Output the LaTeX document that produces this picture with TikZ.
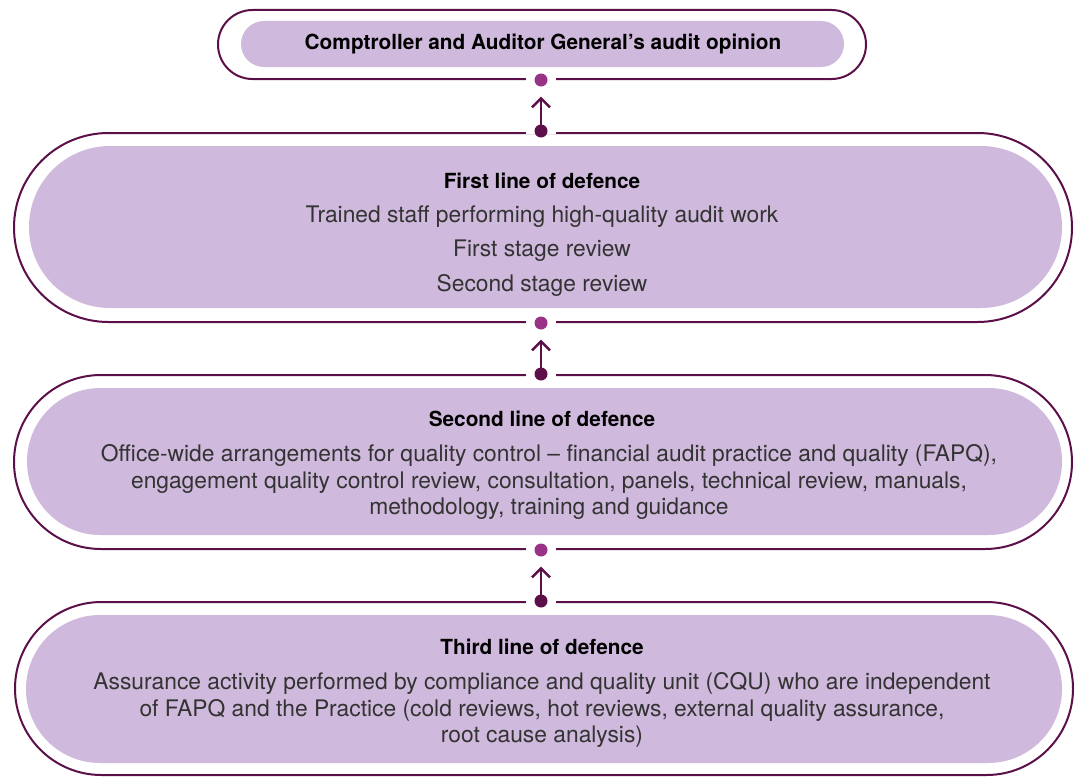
\documentclass[tikz,border=0pt]{standalone}
\usepackage{fontspec}
\setmainfont{TeX Gyre Heros}
\usetikzlibrary{arrows.meta,shapes.misc}
\definecolor{plum}{HTML}{5C0F48}
\definecolor{lav}{HTML}{CFB9DC}
\definecolor{orchid}{HTML}{993387}
\definecolor{ink}{HTML}{333333}

\begin{document}
\begin{tikzpicture}[x=1pt,y=-1pt,
  ring/.style n args={2}{draw=plum, line width=2pt, fill=white, rounded rectangle,
    inner sep=0pt, minimum width=#1, minimum height=#2},
  pill/.style n args={2}{fill=lav, rounded rectangle, inner sep=0pt,
    minimum width=#1, minimum height=#2},
  heading/.style={font=\bfseries\fontsize{20.8}{24}\selectfont, text=black, inner sep=0pt},
  body/.style={font=\fontsize{22.8}{26.7}\selectfont, text=ink, align=center, inner sep=0pt},
  gap/.style={fill=white, minimum width=30pt, minimum height=6pt, inner sep=0pt},
  topdot/.style={circle, fill=orchid, minimum size=13pt, inner sep=0pt},
  basedot/.style={circle, fill=plum, minimum size=13pt, inner sep=0pt},
  link/.style={draw=plum, line width=2.4pt, -{Straight Barb[length=9pt,width=18pt]}, shorten >=10pt}
]
\useasboundingbox (0,0) rectangle (1078,776);

% outer rings
\node[ring={648pt}{69pt}]   (o1) at (542,44.5) {};
\node[ring={1058pt}{189pt}] (o2) at (543,227.5) {};
\node[ring={1058pt}{174pt}] (o3) at (543,462) {};
\node[ring={1058pt}{173pt}] (o4) at (544,688.5) {};

% filled pills
\node[pill={603pt}{46pt}]   (p1) at (542.5,44) {};
\node[pill={1033pt}{162pt}] (p2) at (545.5,227) {};
\node[pill={1035pt}{147pt}] (p3) at (544.5,461.5) {};
\node[pill={1036pt}{148pt}] (p4) at (544,689) {};

% texts
\node[heading] (h1) at (543,44) {Comptroller and Auditor General’s audit opinion};

\node[heading] (h2) at (542,181) {First line of defence};
\node[body] (b2a) at (542,217) {Trained staff performing high-quality audit work};
\node[body] (b2b) at (542,251) {First stage review};
\node[body] (b2c) at (542,285) {Second stage review};

\node[heading] (h3) at (542,419) {Second line of defence};
\node[body] (b3) at (549,482) {Office-wide arrangements for quality control – financial audit practice and quality (FAPQ),\\
engagement quality control review, consultation, panels, technical review, manuals,\\
methodology, training and guidance};

\node[heading] (h4) at (542,647) {Third line of defence};
\node[body] (b4) at (542,710) {Assurance activity performed by compliance and quality unit (CQU) who are independent\\
of FAPQ and the Practice (cold reviews, hot reviews, external quality assurance,\\
root cause analysis)};

% openings in the rings around the dots
\node[gap] (g1) at (541,80) {};
\node[gap] (g2) at (541,131) {};
\node[gap] (g3) at (541,323) {};
\node[gap] (g4) at (541,374) {};
\node[gap] (g5) at (541,550) {};
\node[gap] (g6) at (541,601) {};

% connectors
\node[topdot]  (m1) at (541,80) {};
\node[basedot] (d1) at (541,131) {};
\node[topdot]  (m2) at (541,323) {};
\node[basedot] (d2) at (541,374) {};
\node[topdot]  (m3) at (541,550) {};
\node[basedot] (d3) at (541,601) {};

\draw[link] (d1.center) -- (m1);
\draw[link] (d2.center) -- (m2);
\draw[link] (d3.center) -- (m3);
\end{tikzpicture}
\end{document}
